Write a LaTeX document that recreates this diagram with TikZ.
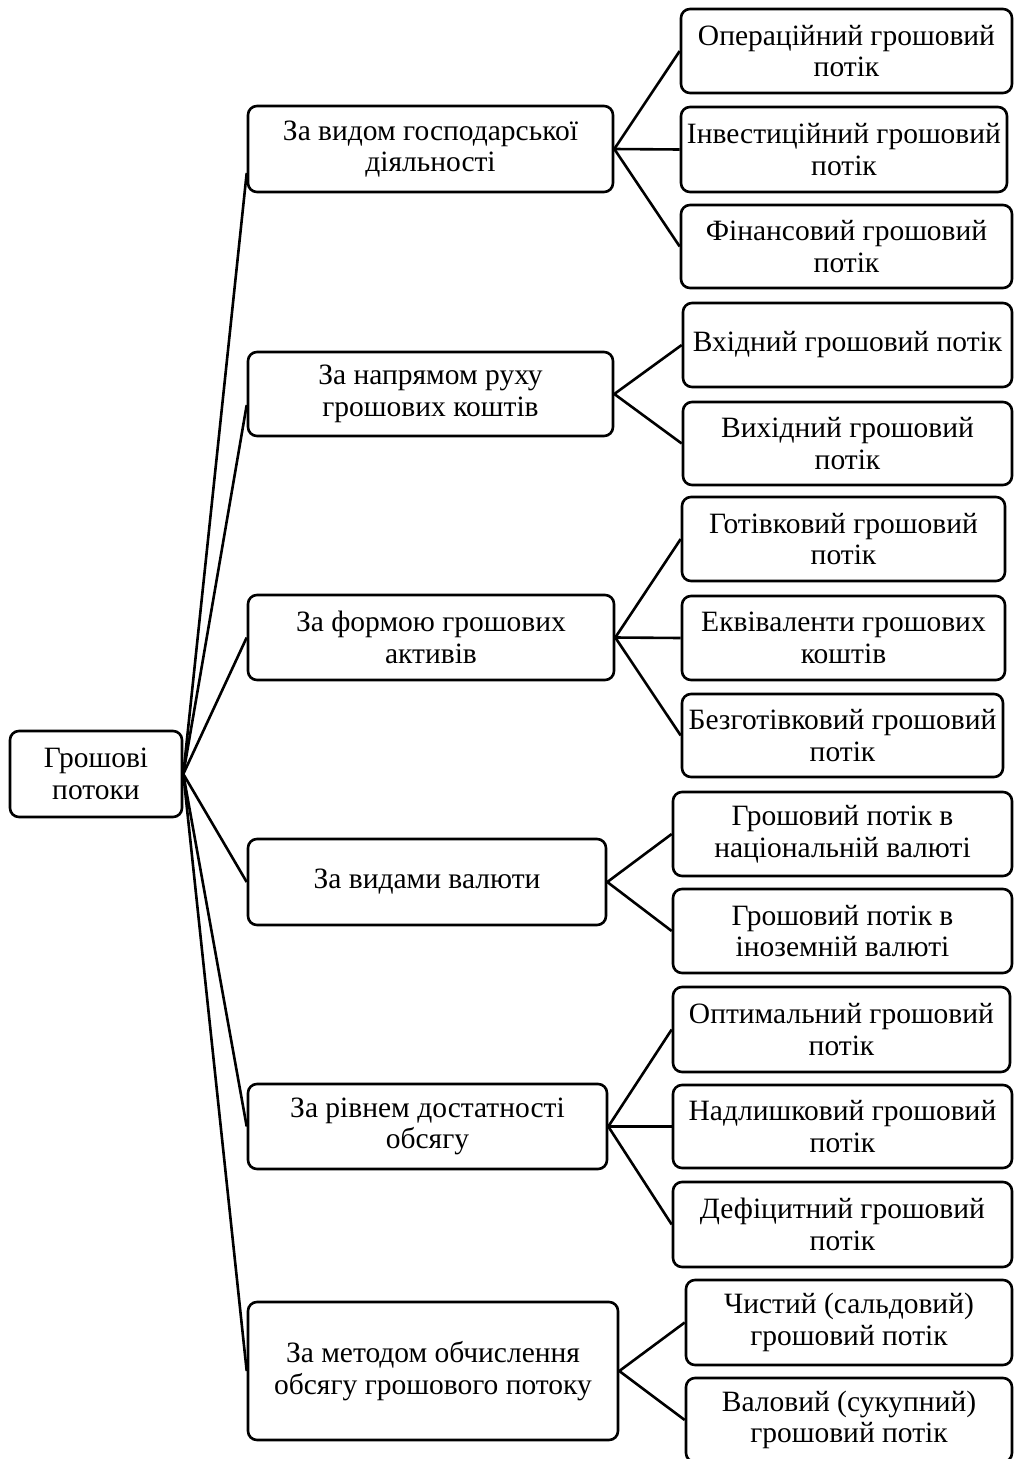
\documentclass[tikz,border=0pt]{standalone}
\usepackage{fontspec}
\setmainfont{Liberation Serif}
\begin{document}
\begin{tikzpicture}[x=1pt,y=-1pt,
  box/.style={draw, line width=2.6pt, rounded corners=9pt, fill=white, align=center,
              inner sep=0pt, font=\fontsize{29.5}{31.5}\selectfont},
  conn/.style={line width=2.6pt}]
\useasboundingbox (0,0) rectangle (1014,1459);
% root
\node[box, minimum width=172pt, minimum height=86pt] (root) at (96,774) {Грошові\\потоки};
% level 1
\node[box, minimum width=365pt, minimum height=86pt] (b1) at (430.5,149) {За видом господарської\\діяльності};
\node[box, minimum width=365pt, minimum height=84pt] (b2) at (430.5,394) {За напрямом руху\\грошових коштів};
\node[box, minimum width=366pt, minimum height=85pt] (b3) at (431,637.5) {За формою грошових\\активів};
\node[box, minimum width=358pt, minimum height=86pt] (b4) at (427,882) {За видами валюти};
\node[box, minimum width=359pt, minimum height=85pt] (b5) at (427.5,1126.5) {За рівнем достатності\\обсягу};
\node[box, minimum width=370pt, minimum height=138pt] (b6) at (433,1371) {За методом обчислення\\обсягу грошового потоку};
% level 2
\node[box, minimum width=331pt, minimum height=84pt] (c11) at (846.5,51) {Операційний грошовий\\потік};
\node[box, minimum width=326pt, minimum height=85pt] (c12) at (844,149.5) {Інвестиційний грошовий\\потік};
\node[box, minimum width=331pt, minimum height=83pt] (c13) at (846.5,246.5) {Фінансовий грошовий\\потік};
\node[box, minimum width=329pt, minimum height=84pt] (c21) at (847.5,345) {Вхідний грошовий потік};
\node[box, minimum width=329pt, minimum height=83pt] (c22) at (847.5,443.5) {Вихідний грошовий\\потік};
\node[box, minimum width=323pt, minimum height=84pt] (c31) at (843.5,539) {Готівковий грошовий\\потік};
\node[box, minimum width=323pt, minimum height=84pt] (c32) at (843.5,638) {Еквіваленти грошових\\коштів};
\node[box, minimum width=321pt, minimum height=83pt] (c33) at (842.5,735.5) {Безготівковий грошовий\\потік};
\node[box, minimum width=339pt, minimum height=84pt] (c41) at (842.5,834) {Грошовий потік в\\національній валюті};
\node[box, minimum width=339pt, minimum height=84pt] (c42) at (842.5,931) {Грошовий потік в\\іноземній валюті};
\node[box, minimum width=337pt, minimum height=85pt] (c51) at (841.5,1029.5) {Оптимальний грошовий\\потік};
\node[box, minimum width=339pt, minimum height=83pt] (c52) at (842.5,1126.5) {Надлишковий грошовий\\потік};
\node[box, minimum width=339pt, minimum height=85pt] (c53) at (842.5,1224.5) {Дефіцитний грошовий\\потік};
\node[box, minimum width=326pt, minimum height=85pt] (c61) at (849,1322.5) {Чистий (сальдовий)\\грошовий потік};
\node[box, minimum width=326pt, minimum height=84pt] (c62) at (849,1420) {Валовий (сукупний)\\грошовий потік};
% connectors root -> level 1
\draw[conn] (root.east) -- ([yshift=-24pt]b1.west);
\draw[conn] (root.east) -- ([yshift=-11pt]b2.west);
\draw[conn] (root.east) -- (b3.west);
\draw[conn] (root.east) -- (b4.west);
\draw[conn] (root.east) -- (b5.west);
\draw[conn] (root.east) -- (b6.west);
% level 1 -> level 2
\draw[conn] (b1.east) -- (c11.west);
\draw[conn] (b1.east) -- (c12.west);
\draw[conn] (b1.east) -- (c13.west);
\draw[conn] (b2.east) -- (c21.west);
\draw[conn] (b2.east) -- (c22.west);
\draw[conn] (b3.east) -- (c31.west);
\draw[conn] (b3.east) -- (c32.west);
\draw[conn] (b3.east) -- (c33.west);
\draw[conn] (b4.east) -- (c41.west);
\draw[conn] (b4.east) -- (c42.west);
\draw[conn] (b5.east) -- (c51.west);
\draw[conn] (b5.east) -- (c52.west);
\draw[conn] (b5.east) -- (c53.west);
\draw[conn] (b6.east) -- (c61.west);
\draw[conn] (b6.east) -- (c62.west);
\end{tikzpicture}
\end{document}
